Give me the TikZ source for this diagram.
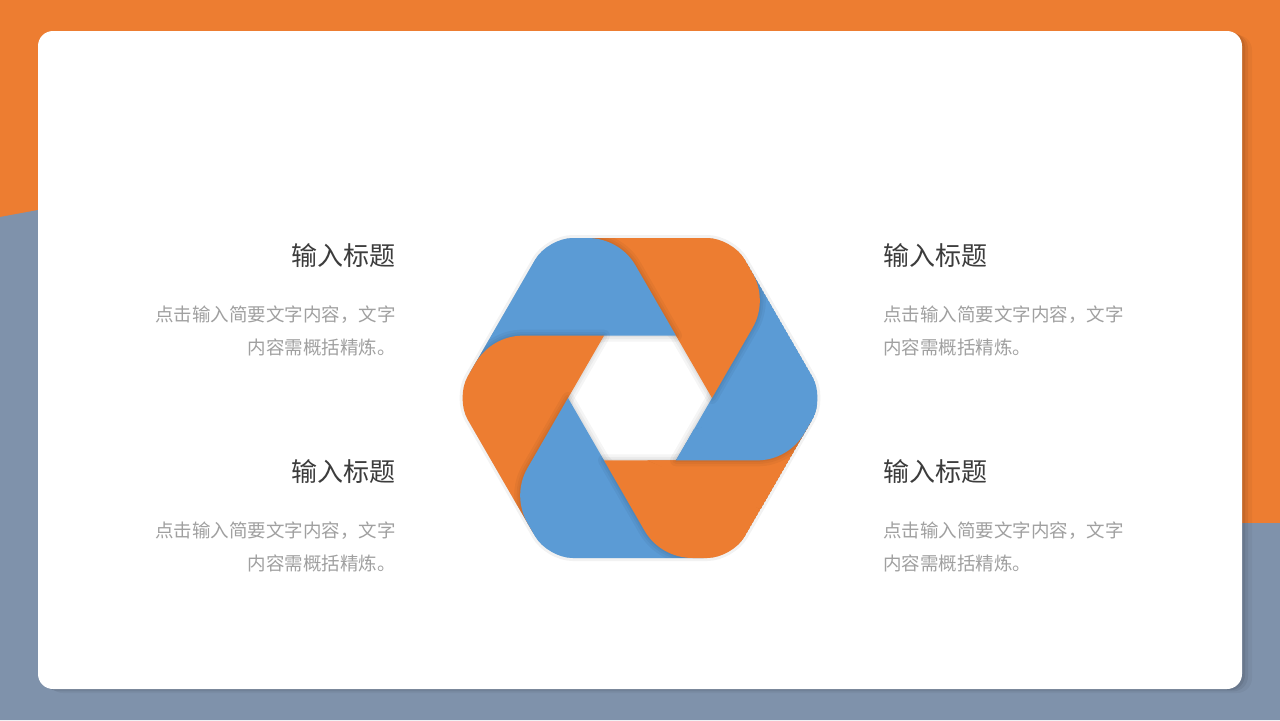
\documentclass[tikz,border=0pt]{standalone}
\usepackage{fontspec}
\setmainfont{Noto Sans CJK SC}
\usetikzlibrary{calc}

\definecolor{bgorange}{RGB}{237,125,49}
\definecolor{bggrey}{RGB}{127,146,171}
\definecolor{hexblue}{RGB}{91,155,213}
\definecolor{hexorange}{RGB}{237,125,49}
\definecolor{titlegrey}{RGB}{60,60,60}
\definecolor{bodygrey}{RGB}{160,160,160}

\newcommand\hexpath[2]{(h#1) -- (h#2) -- (s#1) .. controls (cs#1) and (ct#1) .. (t#1) -- (V#1) -- (P#1) -- cycle}
\newcommand\hexshadow[2]{%
    \draw[pieceshadow,line width=6pt] \hexpath{#1}{#2};
    \draw[pieceshadow,line width=3.5pt] \hexpath{#1}{#2};
    \draw[pieceshadow,line width=1.5pt] \hexpath{#1}{#2};}

\begin{document}
\begin{tikzpicture}[x=0.5pt,y=0.5pt,
    title/.style={font=\fontsize{13}{16}\selectfont,text=titlegrey,inner sep=0pt},
    body/.style={font=\fontsize{9.25}{16.5}\selectfont,text=bodygrey,inner sep=0pt},
    pieceshadow/.style={black,opacity=0.04,line join=round}]
\useasboundingbox (0,0) rectangle (1280,720);

\fill[bgorange] (0,0) rectangle (1280,720);
\fill[bggrey] (0,0) -- (0,503) -- (38,510) -- (1242,197) -- (1280,197) -- (1280,0) -- cycle;

\foreach \s/\o in {10/0.04,6/0.06,3/0.08}
    \fill[black,opacity=\o,rounded corners=7.5pt] (38+\s,31-0.4*\s) rectangle (1242+\s,689-0.4*\s);
\fill[white,rounded corners=7.5pt] (38,31) rectangle (1242,689);

\coordinate (C) at (640,322);
\foreach \a in {0,60,...,300}{
    \coordinate (h\a) at ($(C)+(\a:72)$);
    \coordinate (o\a) at ($(C)+(\a+37.26:161.3)$);
    \coordinate (V\a) at ($(C)+(\a:184.75)$);
}
\foreach \a in {0,60,...,300}{
    \pgfmathtruncatemacro\n{mod(\a+60,360)}
    \pgfmathtruncatemacro\p{mod(\a+300,360)}
    \coordinate (P\a) at ($(o\a)!0.6!(V\n)$);
    \coordinate (s\a) at ($(o\p)!0.28!(h\p)$);
    \coordinate (t\a) at ($(o\p)!0.45!(V\a)$);
    \coordinate (cs\a) at ($(s\a)!0.62!(o\p)$);
    \coordinate (ct\a) at ($(t\a)!0.62!(o\p)$);
}

\draw[black,opacity=0.05,line width=3pt,rounded corners=12.5pt]
    (V0) -- (V60) -- (V120) -- (V180) -- (V240) -- (V300) -- cycle;

\begin{scope}
    \clip[rounded corners=12.5pt] (V0) -- (V60) -- (V120) -- (V180) -- (V240) -- (V300) -- cycle;
    \foreach \a/\c in {0/hexblue,60/hexorange,120/hexblue,180/hexorange,240/hexblue,300/hexorange}{
        \pgfmathtruncatemacro\p{mod(\a+300,360)}
        \hexshadow{\a}{\p}
        \fill[\c] \hexpath{\a}{\p};
    }
    \coordinate (M1) at ($(h300)!0.5!(h0)$);
    \coordinate (M2) at ($(o300)!0.9!(V0)$);
    \coordinate (M3) at ($(o300)!0.5!(V300)$);
    \coordinate (M4) at ($(h300)!0.4!(h240)$);
    \begin{scope}
        \clip (M1) -- (M2) -- (M3) -- (M4) -- (h300) -- cycle;
        \hexshadow{300}{240}
        \fill[hexorange] \hexpath{300}{240};
        \hexshadow{0}{300}
        \fill[hexblue] \hexpath{0}{300};
    \end{scope}
\end{scope}

\node[title,anchor=east] (title1) at (396,464) {输入标题};
\node[body,anchor=east,align=right] (text1) at (396,389.5) {点击输入简要文字内容，文字\\内容需概括精炼。};
\node[title,anchor=east] (title2) at (396,248) {输入标题};
\node[body,anchor=east,align=right] (text2) at (396,173) {点击输入简要文字内容，文字\\内容需概括精炼。};
\node[title,anchor=west] (title3) at (883,464) {输入标题};
\node[body,anchor=west,align=left] (text3) at (883,389.5) {点击输入简要文字内容，文字\\内容需概括精炼。};
\node[title,anchor=west] (title4) at (883,248) {输入标题};
\node[body,anchor=west,align=left] (text4) at (883,173) {点击输入简要文字内容，文字\\内容需概括精炼。};
\end{tikzpicture}
\end{document}
